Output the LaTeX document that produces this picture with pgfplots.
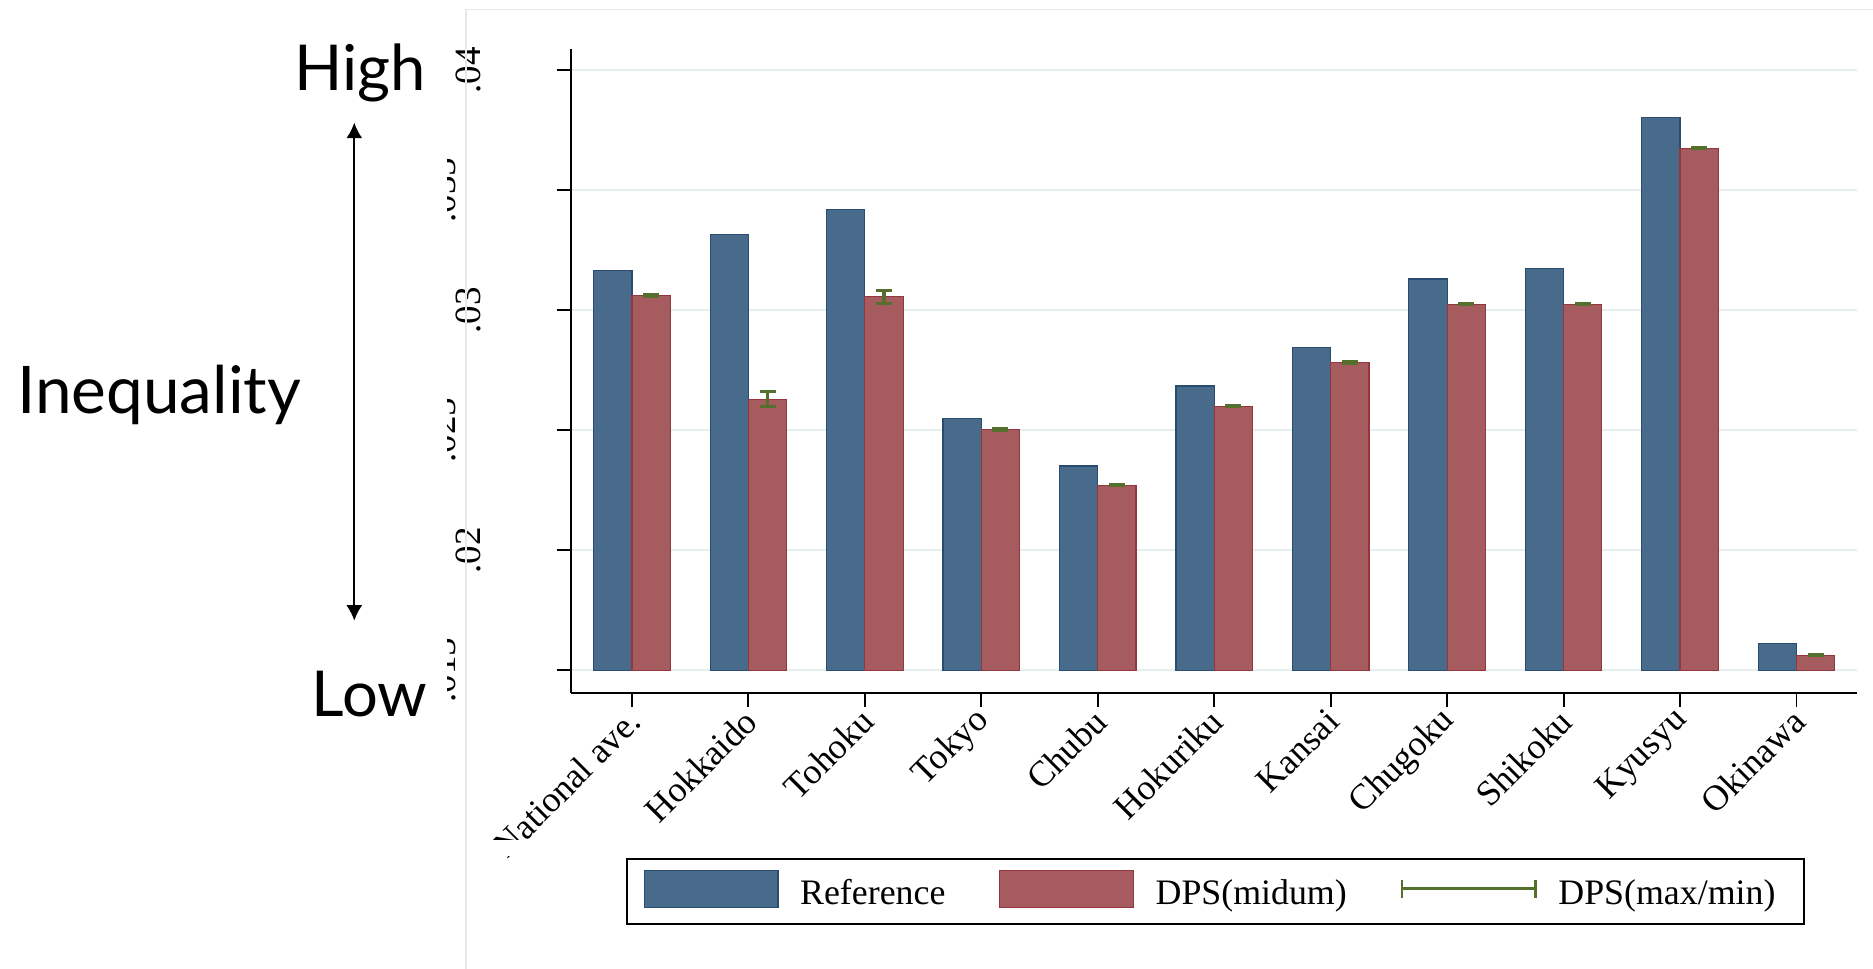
\documentclass[border=0pt]{standalone}
\usepackage{pgfplots}
\pgfplotsset{compat=1.18}
\usepackage{fontspec}
\setmainfont{Liberation Serif}
\newfontfamily\sidefont{Lato}
\usetikzlibrary{arrows.meta}

\definecolor{barblue}{HTML}{486B8C}
\definecolor{barblueedge}{HTML}{2A4C6E}
\definecolor{barred}{HTML}{A65C5E}
\definecolor{barrededge}{HTML}{93363F}
\definecolor{errgreen}{HTML}{55702D}
\definecolor{gridc}{HTML}{E6EFF0}
\definecolor{framec}{HTML}{E4EAEA}

\begin{document}
\begin{tikzpicture}
\begin{axis}[
  scale only axis,
  width=538.5pt, height=269.5pt,
  xmin=-0.524, xmax=10.524,
  % bars rise from the .015 baseline
  y filter/.expression={y-0.015},
  ymin=-0.000946, ymax=0.025886,
  enlargelimits=false,
  scaled y ticks=false,
  axis lines=left,
  axis line style={-, line width=0.8pt, black},
  tick align=outside,
  major tick length=6pt,
  tick style={line width=0.8pt, black},
  xtick={0,...,10},
  xticklabels={National ave., Hokkaido, Tohoku, Tokyo, Chubu, Hokuriku, Kansai, Chugoku, Shikoku, Kyusyu, Okinawa},
  xticklabel style={xshift=2.5pt, yshift=-2pt, rotate=45, anchor=east, inner sep=2pt, font=\fontsize{15}{15}\selectfont},
  ytick={0,0.005,0.01,0.015,0.02,0.025},
  yticklabels={{},.02,{},.03,{},.04},
  yticklabel style={xshift=-32pt, rotate=90, anchor=base, inner sep=0pt, font=\fontsize{15.5}{16}\selectfont},
  ymajorgrids,
  major grid style={gridc, line width=0.9pt},
  ybar=0pt, bar width=0.329,
  legend columns=3,
  legend style={at={(axis description cs:0.0427,-0.256)}, anchor=north west,
    draw=black, line width=0.9pt, inner xsep=7pt, inner ysep=4.75pt,
    font=\fontsize{15}{15}\selectfont,
    nodes={inner xsep=5pt, inner ysep=2pt},
    /tikz/every odd column/.append style={column sep=4pt},
    /tikz/every even column/.append style={column sep=17.5pt}},
]
\addplot[fill=barblue, draw=barblueedge, line width=0.5pt,
  legend image code/.code={\draw[fill=barblue, draw=barblueedge, line width=0.5pt] (0pt,-6pt) rectangle (56pt,9.5pt);}]
  coordinates {
  (0,0.03167) (1,0.03314) (2,0.03419) (3,0.02548) (4,0.02351) (5,0.02684)
  (6,0.02843) (7,0.03130) (8,0.03175) (9,0.03803) (10,0.01611)};
\addlegendentry{Reference}
\addplot[fill=barred, draw=barrededge, line width=0.5pt,
  legend image code/.code={\draw[fill=barred, draw=barrededge, line width=0.5pt] (0pt,-6pt) rectangle (56pt,9.5pt);},
  error bars/.cd, y dir=both, y explicit,
  error bar style={errgreen, line width=1.3pt},
  error mark options={rotate=90, errgreen, mark size=3.35pt, line width=1.3pt}]
  coordinates {
  (0,0.03061) +- (0,0.00004)
  (1,0.026275) += (0,0.00032) -= (0,0.00028)
  (2,0.03058) += (0,0.00024) -= (0,0.00029)
  (3,0.02503) +- (0,0.00003)
  (4,0.02271) +- (0,0.00003)
  (5,0.02600) +- (0,0.00003)
  (6,0.02783) +- (0,0.00003)
  (7,0.03025) +- (0,0.00003)
  (8,0.03025) +- (0,0.00003)
  (9,0.03675) +- (0,0.00002)
  (10,0.01562) +- (0,0.00002)};
\addlegendentry{DPS(midum)}
\addlegendimage{legend image code/.code={
  \draw[errgreen, line width=1.1pt] (0pt,2pt) -- (56pt,2pt);
  \draw[errgreen, line width=1.1pt] (0pt,-1.75pt) -- (0pt,5.75pt);
  \draw[errgreen, line width=1.1pt] (56pt,-1.75pt) -- (56pt,5.75pt);}}
\addlegendentry{DPS(max/min)}
\coordinate (c015) at (axis cs:-0.524,0);
\coordinate (c025) at (axis cs:-0.524,0.01);
\coordinate (c035) at (axis cs:-0.524,0.02);
\end{axis}

% light outer frame of the graph region
\draw[framec, line width=0.6pt] (-44pt,-115.5pt) -- (-44pt,286pt) -- (545pt,286pt);

% clipped first category label
\fill[white] (-43.5pt,-68.5pt) rectangle (22pt,-61.5pt);

% secondary tick labels, mostly hidden
\begin{scope}
  \clip (-51.5pt,-20pt) rectangle (-46pt,280pt);
  \foreach \c/\t in {c015/.015, c025/.025, c035/.035}
    \node[font=\fontsize{15.5}{16}\selectfont, xshift=-48.5pt, rotate=90, anchor=base, inner sep=0pt] at (\c) {\t};
\end{scope}

% inequality scale at the left
\node[font=\sidefont\fontsize{26.5}{30}\selectfont, anchor=base east, inner sep=0pt] at (-60.5pt,252.3pt) {High};
\node[font=\sidefont\fontsize{26.5}{30}\selectfont, anchor=base east, inner sep=0pt] at (-60pt,-9.7pt) {Low};
\node[font=\sidefont\fontsize{27.5}{30}\selectfont, anchor=base west, inner sep=0pt] at (-232pt,117pt) {Inequality};
\draw[line width=0.7pt, {Latex[length=6.5pt,width=6.7pt]}-{Latex[length=6.5pt,width=6.7pt]}]
  (-90.7pt,30.2pt) -- (-90.7pt,238.65pt);

\pgfresetboundingbox
\path[use as bounding box] (-239pt,-115.5pt) rectangle (545pt,290pt);
\end{tikzpicture}
\end{document}
